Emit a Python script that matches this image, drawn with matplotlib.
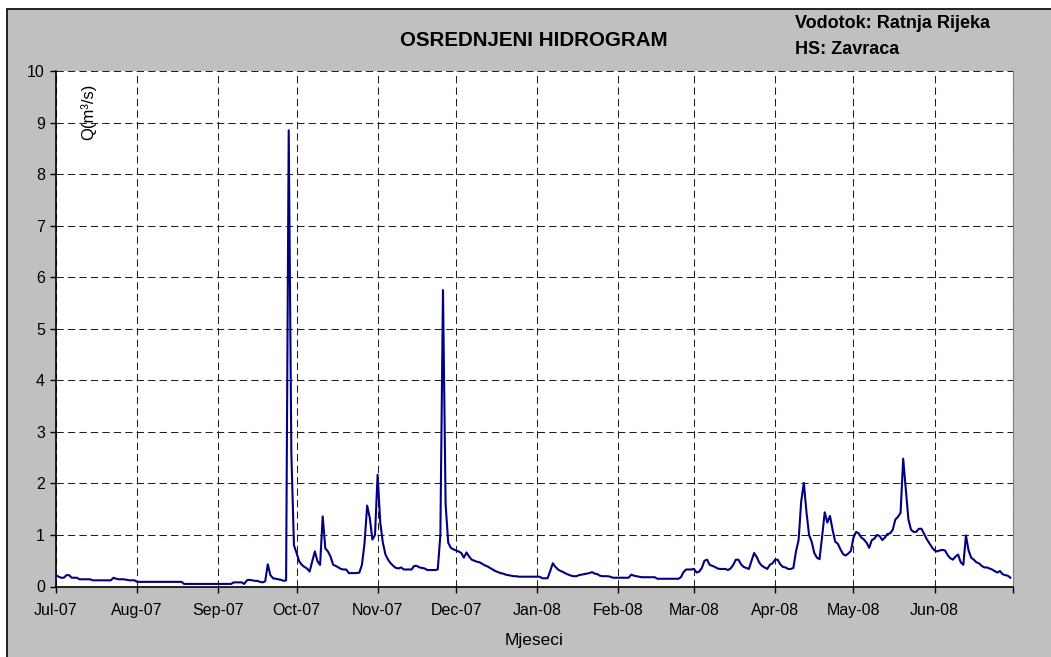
import numpy as np
import matplotlib
matplotlib.use("Agg")
import matplotlib.pyplot as plt
from matplotlib.patches import Rectangle

plt.rcParams['font.family'] = ['Liberation Sans', 'DejaVu Sans']

# daily mean discharge Q (m3/s), Jul 2007 - Jun 2008
jul = [0.22, 0.19, 0.17, 0.17, 0.22, 0.22, 0.17, 0.17, 0.17, 0.14, 0.14, 0.14, 0.14, 0.14, 0.12, 0.12,
       0.12, 0.12, 0.12, 0.12, 0.12, 0.12, 0.17, 0.15, 0.14, 0.14, 0.14, 0.13, 0.12, 0.12, 0.12]
aug = [0.09] * 18 + [0.05] * 13
sep = [0.05, 0.05, 0.05, 0.05, 0.05, 0.05, 0.08, 0.08, 0.08, 0.08, 0.05, 0.12, 0.13, 0.12, 0.11,
       0.11, 0.09, 0.08, 0.10, 0.43, 0.22, 0.16, 0.15, 0.14, 0.13, 0.11, 0.12, 8.85, 2.6, 0.80]
oct_ = [0.65, 0.49, 0.42, 0.38, 0.35, 0.29, 0.49, 0.68, 0.49, 0.42, 1.36, 0.74, 0.68, 0.58, 0.42, 0.40,
        0.37, 0.34, 0.33, 0.33, 0.26, 0.26, 0.26, 0.26, 0.27, 0.42, 0.84, 1.57, 1.33, 0.91, 1.00]
nov = [2.17, 1.25, 0.85, 0.62, 0.52, 0.45, 0.40, 0.36, 0.35, 0.37, 0.33, 0.33, 0.33, 0.33, 0.40,
       0.40, 0.37, 0.36, 0.35, 0.32, 0.32, 0.32, 0.32, 0.33, 1.00, 5.75, 1.60, 0.85, 0.75, 0.72]
dec = [0.70, 0.68, 0.65, 0.56, 0.66, 0.58, 0.52, 0.50, 0.48, 0.47, 0.44, 0.41, 0.39, 0.36, 0.33, 0.30,
       0.28, 0.26, 0.25, 0.23, 0.22, 0.21, 0.20, 0.20, 0.19, 0.19, 0.19, 0.19, 0.19, 0.19, 0.19]
jan = [0.19, 0.19, 0.16, 0.16, 0.16, 0.30, 0.45, 0.38, 0.33, 0.30, 0.28, 0.25, 0.23, 0.21, 0.20, 0.20,
       0.22, 0.23, 0.24, 0.25, 0.26, 0.28, 0.25, 0.24, 0.21, 0.20, 0.20, 0.20, 0.19, 0.17, 0.17]
feb = [0.17] * 5 + [0.23, 0.21, 0.20, 0.19] + [0.18] * 6 + [0.15] * 9 + [0.18, 0.28, 0.33, 0.33, 0.33]
mar = [0.34, 0.27, 0.29, 0.36, 0.50, 0.52, 0.42, 0.40, 0.38, 0.35, 0.34, 0.34, 0.34, 0.32, 0.35, 0.42,
       0.52, 0.52, 0.43, 0.38, 0.36, 0.34, 0.50, 0.65, 0.57, 0.46, 0.40, 0.37, 0.34, 0.42, 0.45]
apr = [0.52, 0.52, 0.43, 0.38, 0.37, 0.34, 0.34, 0.36, 0.68, 0.90, 1.65, 2.01, 1.45, 1.00, 0.87,
       0.65, 0.56, 0.53, 0.97, 1.44, 1.24, 1.37, 1.10, 0.87, 0.83, 0.72, 0.63, 0.60, 0.64, 0.69]
may = [0.95, 1.06, 1.03, 0.95, 0.91, 0.85, 0.75, 0.90, 0.93, 1.00, 0.98, 0.90, 0.95, 1.02, 1.03, 1.10,
       1.30, 1.35, 1.43, 2.48, 1.90, 1.30, 1.10, 1.06, 1.06, 1.12, 1.12, 1.02, 0.92, 0.84, 0.76]
jun = [0.70, 0.68, 0.70, 0.71, 0.70, 0.61, 0.55, 0.52, 0.58, 0.62, 0.47, 0.42, 0.99, 0.70, 0.56,
       0.52, 0.47, 0.45, 0.40, 0.37, 0.37, 0.35, 0.33, 0.30, 0.27, 0.30, 0.24, 0.22, 0.21, 0.17]

q = np.array(jul + aug + sep + oct_ + nov + dec + jan + feb + mar + apr + may + jun)
days = np.arange('2007-07-01', '2008-07-01', dtype='datetime64[D]')

month_ticks = np.arange('2007-07', '2008-08', dtype='datetime64[M]').astype('datetime64[D]')
month_labels = ['Jul-07', 'Aug-07', 'Sep-07', 'Oct-07', 'Nov-07', 'Dec-07',
                'Jan-08', 'Feb-08', 'Mar-08', 'Apr-08', 'May-08', 'Jun-08', '']

fig = plt.figure(figsize=(10.51, 6.57), dpi=100, facecolor='white')

# grey chart area with black border (runs off right and bottom)
fig.patches.append(Rectangle((6.5 / 1051, -0.02), 1.1, (657 - 8.5) / 657 + 0.02,
                             transform=fig.transFigure, facecolor='#c0c0c0',
                             edgecolor='black', linewidth=1.2, zorder=-10))

ax = fig.add_axes([56 / 1051, 1 - 586.5 / 657, (1013 - 56) / 1051, (586.5 - 71) / 657])
ax.set_facecolor('white')

ax.plot(days, q, color='#000080', linewidth=1.5, zorder=3)

ax.set_xlim(month_ticks[0], month_ticks[-1])
ax.set_ylim(0, 10)
ax.set_yticks(range(0, 11))
ax.set_xticks(month_ticks)
ax.set_xticklabels(month_labels)

ax.grid(True, which='major', color='#202020', linestyle=(0, (7, 4)), linewidth=0.75)
ax.set_axisbelow(True)

ax.spines['top'].set_visible(False)
ax.spines['right'].set_color('#808080')
ax.spines['left'].set_linewidth(1.2)
ax.spines['bottom'].set_linewidth(1.2)

ax.tick_params(axis='both', direction='out', length=4, width=1, labelsize=11.5, colors='black')
ax.tick_params(axis='x', pad=8)
ax.tick_params(axis='y', pad=4)

ax.text(0.034, 0.975, 'Q(m³/s)', transform=ax.transAxes, rotation=90,
        ha='center', va='top', fontsize=12)

fig.text(534 / 1051, 1 - 40 / 657, 'OSREDNJENI HIDROGRAM', ha='center', va='center',
         fontsize=14.8, fontweight='bold')
fig.text(795 / 1051, 1 - 24 / 657, 'Vodotok: Ratnja Rijeka', ha='left', va='center',
         fontsize=13, fontweight='bold')
fig.text(795 / 1051, 1 - 50 / 657, 'HS: Zavraca', ha='left', va='center',
         fontsize=13, fontweight='bold')
fig.text(534 / 1051, 1 - 640 / 657, 'Mjeseci', ha='center', va='center', fontsize=12.5)

fig.savefig('out.png', dpi=100, facecolor='white')
